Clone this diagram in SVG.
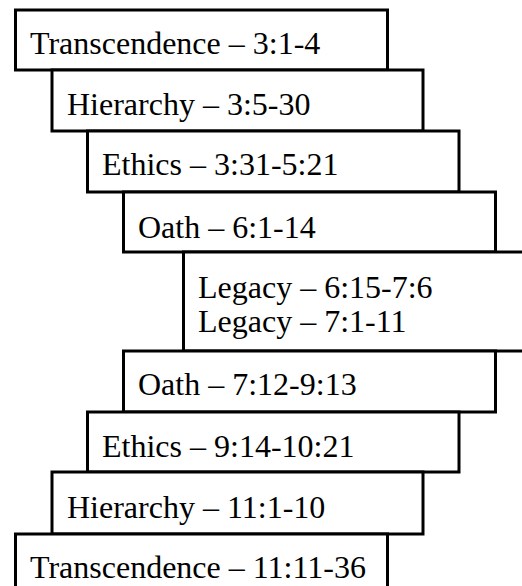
<svg xmlns="http://www.w3.org/2000/svg" width="522" height="586" viewBox="0 0 522 586">
<style>
.box{fill:#ffffff;stroke:#000000;stroke-width:3}
.t{font-family:"Liberation Serif","Times New Roman",serif;font-size:32px;fill:#000000}
</style>
<rect x="0" y="0" width="522" height="586" fill="#ffffff"/>
<g id="n1"><rect class="box" x="15.5" y="10" width="372" height="60"/><text class="t" x="30" y="54">Transcendence – 3:1-4</text></g>
<g id="n2"><rect class="box" x="52" y="70" width="371" height="61"/><text class="t" x="67" y="115">Hierarchy – 3:5-30</text></g>
<g id="n3"><rect class="box" x="87.5" y="131" width="371.5" height="61"/><text class="t" x="102" y="175">Ethics – 3:31-5:21</text></g>
<g id="n4"><rect class="box" x="123.5" y="192" width="372" height="60"/><text class="t" x="138" y="238">Oath – 6:1-14</text></g>
<g id="n5"><rect class="box" x="183.5" y="252" width="360" height="99"/><text class="t" x="198" y="298">Legacy – 6:15-7:6</text><text class="t" x="198" y="332">Legacy – 7:1-11</text></g>
<g id="n6"><rect class="box" x="123.5" y="351" width="372" height="61"/><text class="t" x="138" y="395">Oath – 7:12-9:13</text></g>
<g id="n7"><rect class="box" x="87.5" y="412" width="371.5" height="60"/><text class="t" x="102" y="457">Ethics – 9:14-10:21</text></g>
<g id="n8"><rect class="box" x="52" y="472" width="371" height="62"/><text class="t" x="67" y="518">Hierarchy – 11:1-10</text></g>
<g id="n9"><rect class="box" x="15.5" y="534" width="372" height="70"/><text class="t" x="30" y="578">Transcendence – 11:11-36</text></g>
<g id="connectors"></g>
</svg>
